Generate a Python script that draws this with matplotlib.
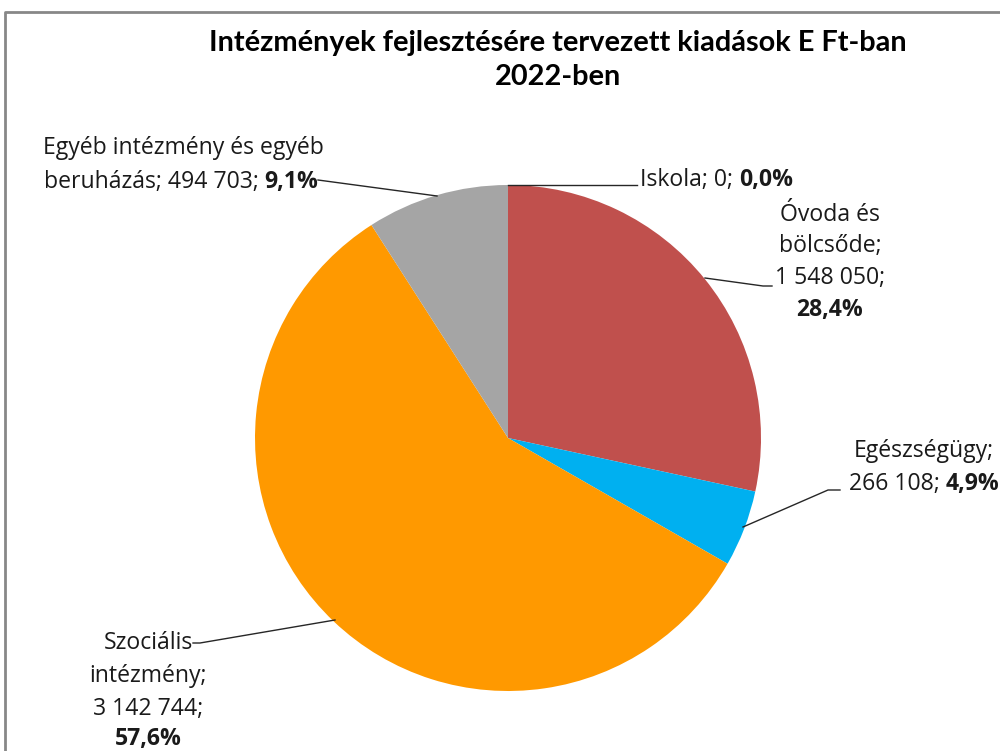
import matplotlib
matplotlib.use("Agg")
import matplotlib.pyplot as plt

# ---- data ----
categories = ["Iskola", "Óvoda és bölcsőde", "Egészségügy", "Szociális intézmény",
              "Egyéb intézmény és egyéb beruházás"]
values = [0, 1548050, 266108, 3142744, 494703]
percent_labels = ["0,0%", "28,4%", "4,9%", "57,6%", "9,1%"]
value_labels = ["0", "1 548 050", "266 108", "3 142 744", "494 703"]
colors = ["#4F81BD", "#C0504D", "#00B0F0", "#FF9900", "#A5A5A5"]
title = "Intézmények fejlesztésére tervezett kiadások E Ft-ban\n2022-ben"

W, H = 1000, 751
fig = plt.figure(figsize=(W / 100, H / 100), dpi=100)
ax = fig.add_axes([0, 0, 1, 1])

def Y(y):
    return H - y

LFONT = "Open Sans"
TFONT = "Lato"
FS = 16.6

ax.pie(values, colors=colors, startangle=90, counterclock=False,
       center=(508, Y(438)), radius=253, frame=True,
       wedgeprops=dict(linewidth=0))
ax.set_xlim(0, W)
ax.set_ylim(0, H)
ax.set_aspect("auto")
ax.axis("off")

# border
ax.plot([5, 5, 1010], [Y(760), Y(12), Y(12)], color="#878787", lw=2, solid_capstyle="butt")

# title
fig.text(558 / W, 1 - 60 / H, title, ha="center", va="center",
         fontsize=20.8, fontweight="bold", family=[TFONT, "DejaVu Sans"],
         linespacing=1.42, color="black")

fig.canvas.draw()
renderer = fig.canvas.get_renderer()

def mixed_line(x, y, segs, ha="center"):
    """segs: list of (text, bold). x,y in pixel coords (y from top)."""
    texts = []
    for s, b in segs:
        t = ax.text(0, Y(y), s, fontsize=FS, family=LFONT,
                    fontweight="bold" if b else "normal", ha="left", va="center",
                    color="#1a1a1a")
        texts.append(t)
    widths = [t.get_window_extent(renderer).width for t in texts]
    total = sum(widths)
    if ha == "center":
        x0 = x - total / 2
    elif ha == "right":
        x0 = x - total
    else:
        x0 = x
    for t, w in zip(texts, widths):
        t.set_x(x0)
        x0 += w

# Egyéb
mixed_line(183, 148, [("Egyéb intézmény és egyéb", False)])
mixed_line(181, 182, [("beruházás; " + value_labels[4] + "; ", False), (percent_labels[4], True)])
# Iskola
mixed_line(640, 180, [("Iskola; " + value_labels[0] + "; ", False), (percent_labels[0], True)], ha="left")
# Óvoda
mixed_line(830, 215, [("Óvoda és", False)])
mixed_line(830, 246, [("bölcsőde;", False)])
mixed_line(830, 278, [(value_labels[1] + ";", False)])
mixed_line(830, 310, [(percent_labels[1], True)])
# Egészségügy
mixed_line(924, 451, [("Egészségügy;", False)])
mixed_line(924, 484, [(value_labels[2] + "; ", False), (percent_labels[2], True)])
# Szociális
mixed_line(148, 643, [("Szociális", False)])
mixed_line(148, 676, [("intézmény;", False)])
mixed_line(148, 709, [(value_labels[3] + ";", False)])
mixed_line(148, 739, [(percent_labels[3], True)])

# leader lines
lc = dict(color="#262626", lw=1)
ax.plot([508, 637], [Y(185), Y(185)], **lc)
ax.plot([318, 437], [Y(180), Y(196)], **lc)
ax.plot([705, 763, 772], [Y(278), Y(286), Y(286)], **lc)
ax.plot([743, 828, 840], [Y(527), Y(490), Y(490)], **lc)
ax.plot([335, 200, 193], [Y(620), Y(643), Y(643)], **lc)

fig.savefig("out.png", dpi=100)
